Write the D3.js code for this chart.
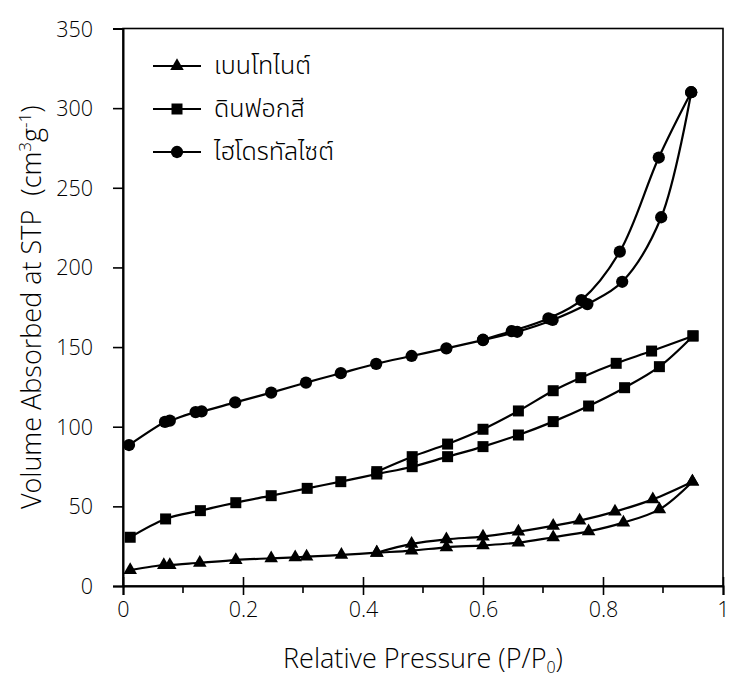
<!DOCTYPE html>
<html>
<head>
<meta charset="utf-8">
<script src="https://cdn.jsdelivr.net/npm/d3@7"></script>
<style>
  body { margin: 0; background: #fff; }
  text { font-family: "Open Sans", "Noto Sans Thai", "Noto Sans", sans-serif; font-weight: 300; fill: #000; white-space: pre; }
</style>
</head>
<body>
<svg id="chart" width="730" height="681"></svg>
<script>
// Nitrogen adsorption / desorption isotherms (relative pressure vs. adsorbed volume)
const seriesNames = ["เบนโทไนต์", "ดินฟอกสี", "ไฮโดรทัลไซต์"];

// bentonite
const bentoniteAdsP = [0.012, 0.068, 0.078, 0.128, 0.188, 0.247, 0.287, 0.306, 0.364, 0.423, 0.481, 0.539, 0.600, 0.659, 0.717, 0.776, 0.834, 0.894, 0.949];
const bentoniteAdsV = [10.0, 13.2, 13.2, 14.6, 16.3, 17.4, 18.0, 18.4, 19.5, 20.9, 22.2, 24.3, 25.5, 27.2, 30.6, 34.3, 39.8, 48.1, 65.5];
const bentoniteDesP = [0.949, 0.883, 0.820, 0.761, 0.717, 0.659, 0.600, 0.539, 0.481, 0.423];
const bentoniteDesV = [65.5, 54.4, 46.7, 41.0, 37.7, 34.1, 31.0, 29.3, 26.4, 20.9];

// bleaching earth
const clayAdsP = [0.012, 0.071, 0.129, 0.188, 0.247, 0.307, 0.363, 0.423, 0.482, 0.541, 0.600, 0.659, 0.717, 0.776, 0.836, 0.894, 0.950];
const clayAdsV = [30.6, 42.1, 47.3, 52.3, 56.7, 61.3, 65.5, 70.3, 74.9, 81.2, 87.5, 94.8, 103.2, 113.0, 124.5, 137.7, 157.0];
const clayDesP = [0.950, 0.881, 0.822, 0.763, 0.717, 0.659, 0.600, 0.541, 0.482, 0.423];
const clayDesV = [157.0, 147.5, 139.8, 130.8, 122.6, 109.9, 98.4, 89.1, 81.2, 71.8];

// hydrotalcite
const hydroAdsP = [0.010, 0.070, 0.078, 0.121, 0.131, 0.187, 0.247, 0.305, 0.363, 0.422, 0.481, 0.539, 0.600, 0.657, 0.716, 0.774, 0.832, 0.897, 0.947];
const hydroAdsV = [88.5, 103.0, 103.8, 109.2, 109.6, 115.3, 121.4, 127.7, 133.6, 139.5, 144.4, 149.2, 154.4, 159.6, 167.0, 177.0, 191.0, 231.5, 310.0];
const hydroDesP = [0.947, 0.893, 0.828, 0.764, 0.709, 0.648, 0.600];
const hydroDesV = [310.0, 269.0, 209.9, 179.5, 168.0, 160.0, 154.6];

const xTicks = [0, 0.2, 0.4, 0.6, 0.8, 1];
const xMinorTicks = [0.1, 0.3, 0.5, 0.7, 0.9];
const yTicks = [0, 50, 100, 150, 200, 250, 300, 350];

const margin = { left: 123, right: 7, top: 28.5, bottom: 95 };
const W = 730, H = 681;
const svg = d3.select("#chart");

const x = d3.scaleLinear().domain([0, 1]).range([margin.left, W - margin.right]);
const y = d3.scaleLinear().domain([0, 350]).range([H - margin.bottom, margin.top]);

const zip = (p, v) => p.map((d, i) => [d, v[i]]);
const series = [
  { name: seriesNames[0], symbol: d3.symbolTriangle, size: 80, branches: [zip(bentoniteAdsP, bentoniteAdsV), zip(bentoniteDesP, bentoniteDesV)] },
  { name: seriesNames[1], symbol: d3.symbolSquare, size: 121, branches: [zip(clayAdsP, clayAdsV), zip(clayDesP, clayDesV)] },
  { name: seriesNames[2], symbol: d3.symbolCircle, size: 118, branches: [zip(hydroAdsP, hydroAdsV), zip(hydroDesP, hydroDesV)] }
];

// frame
svg.append("rect")
  .attr("x", x(0)).attr("y", y(350))
  .attr("width", x(1) - x(0)).attr("height", y(0) - y(350))
  .attr("fill", "none").attr("stroke", "#000").attr("stroke-width", 1.6);

// y axis
const yAxis = svg.append("g").attr("transform", `translate(${x(0)},0)`)
  .call(d3.axisLeft(y).tickValues(yTicks).tickSize(10).tickPadding(20).tickFormat(d3.format("d")));
yAxis.select(".domain").attr("stroke-width", 2);
yAxis.selectAll(".tick line").attr("stroke-width", 1.6);
yAxis.selectAll("text").attr("font-size", 21.5).attr("dy", "0.35em");

// x axis: major ticks cross the axis line, minor ticks point outward
const xAxis = svg.append("g").attr("transform", `translate(0,${y(0)})`)
  .call(d3.axisBottom(x).tickValues(xTicks).tickSize(9).tickPadding(7).tickFormat(d => d3.format("")(d)));
xAxis.select(".domain").attr("stroke-width", 2);
xAxis.selectAll(".tick line").attr("y1", -9).attr("stroke-width", 1.6);
xAxis.selectAll("text").attr("font-size", 21.5);
svg.append("g").selectAll("line").data(xMinorTicks).join("line")
  .attr("x1", d => x(d)).attr("x2", d => x(d))
  .attr("y1", y(0)).attr("y2", y(0) + 7)
  .attr("stroke", "#000").attr("stroke-width", 1.6);

// axis titles
const xt = svg.append("text")
  .attr("x", (x(0) + x(1)) / 2).attr("y", 668)
  .attr("text-anchor", "middle").attr("font-size", 27);
xt.append("tspan").text("Relative Pressure (P/P");
xt.append("tspan").attr("font-size", 16).attr("dy", 5).text("0");
xt.append("tspan").attr("dy", -5).text(")");

const yt = svg.append("text")
  .attr("transform", `translate(41,${(y(0) + y(350)) / 2}) rotate(-90)`)
  .attr("text-anchor", "middle").attr("font-size", 27);
yt.append("tspan").text("Volume Absorbed at STP  (cm");
yt.append("tspan").attr("font-size", 17).attr("dy", -10).text("3");
yt.append("tspan").attr("dy", 10).text("g");
yt.append("tspan").attr("font-size", 17).attr("dy", -10).text("-1");
yt.append("tspan").attr("dy", 10).text(")");

// isotherm lines and markers
const line = d3.line().x(d => x(d[0])).y(d => y(d[1])).curve(d3.curveCatmullRom.alpha(0.5));
series.forEach(s => {
  const g = svg.append("g");
  s.branches.forEach(b => {
    g.append("path").attr("d", line(b))
      .attr("fill", "none").attr("stroke", "#000").attr("stroke-width", 2.2);
  });
  s.branches.forEach(b => {
    g.selectAll(null).data(b).join("path")
      .attr("transform", d => `translate(${x(d[0])},${y(d[1])})`)
      .attr("d", d3.symbol(s.symbol, s.size))
      .attr("fill", "#000");
  });
});

// legend
const legend = svg.append("g");
series.forEach((s, i) => {
  const ly = 66 + i * 43;
  legend.append("line").attr("x1", 153).attr("x2", 201).attr("y1", ly).attr("y2", ly)
    .attr("stroke", "#000").attr("stroke-width", 2.2);
  legend.append("path").attr("transform", `translate(177,${ly})`)
    .attr("d", d3.symbol(s.symbol, s.size)).attr("fill", "#000");
  legend.append("text").attr("x", 214).attr("y", ly + 8).attr("font-size", 25).text(s.name);
});
</script>
</body>
</html>
